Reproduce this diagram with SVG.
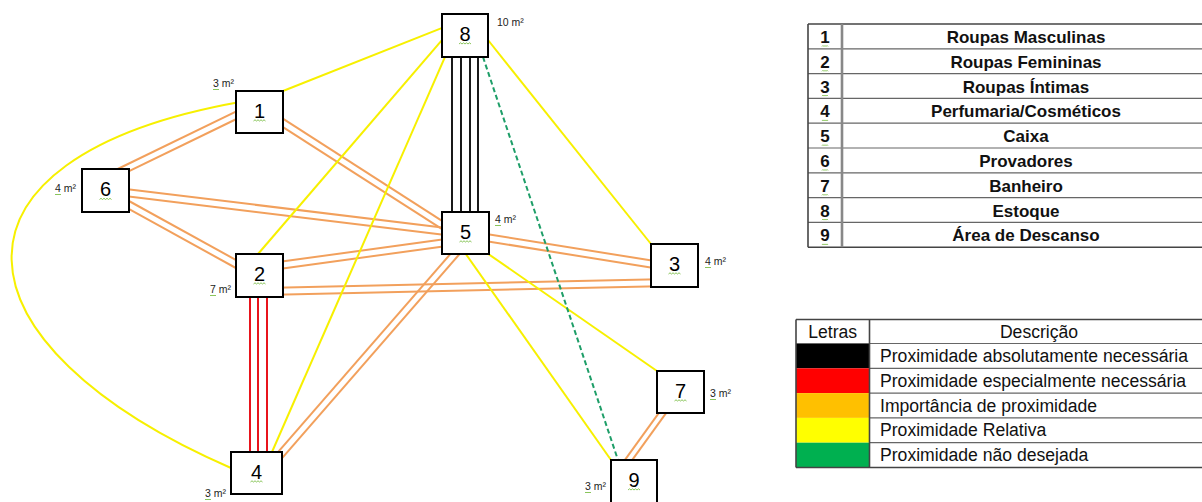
<svg xmlns="http://www.w3.org/2000/svg" xmlns:xlink="http://www.w3.org/1999/xlink" width="1202" height="502" viewBox="0 0 1202 502">
<style>
.box{fill:#fff;stroke:#000;stroke-width:2}
.num{font-family:"Liberation Sans",Arial,sans-serif;font-size:20px;text-anchor:middle;fill:#000}
.area{font-family:"Liberation Sans",Arial,sans-serif;font-size:10.5px;fill:#222}
.or{stroke:#F2A05C;stroke-width:2;fill:none}
.ye{stroke:#F7F000;stroke-width:2;fill:none}
.bk{stroke:#000;stroke-width:1.8}
.rd{stroke:#E8141C;stroke-width:2}
.gn{stroke:#1E9E68;stroke-width:2;stroke-dasharray:5 3}
.sqs{stroke:#7DBE4A;stroke-width:0.9;fill:none}
.tl{stroke:#666;stroke-width:1.2}
.tb{stroke:#444;stroke-width:1.6}
.tn{font-family:"Liberation Sans",Arial,sans-serif;font-size:17px;font-weight:bold;text-anchor:middle;fill:#111}
.lt{font-family:"Liberation Sans",Arial,sans-serif;font-size:17.6px;fill:#111}
.lh{font-family:"Liberation Sans",Arial,sans-serif;font-size:17.6px;text-anchor:middle;fill:#111}
</style>
<defs>
<path id="sq" class="sqs" d="M0,0 l1.5,-1.2 l1.5,1.2 l1.5,-1.2 l1.5,1.2 l1.5,-1.2 l1.5,1.2 l1.5,-1.2 l1.5,1.2"/>
<path id="sqs" class="sqs" d="M0,0 l1,-1 l1,1 l1,-1 l1,1 l1,-1 l1,1"/>
</defs>
<rect width="1202" height="502" fill="#fff"/>

<g id="connectors">
  <!-- orange pairs -->
  <line class="or" x1="244.6" y1="107.3" x2="108.4" y2="173.5"/>
  <line class="or" x1="247.8" y1="113.5" x2="111.6" y2="179.7"/>
  <line class="or" x1="278.2" y1="115.7" x2="450.6" y2="226.3"/>
  <line class="or" x1="274.4" y1="121.6" x2="446.8" y2="232.2"/>
  <line class="or" x1="121.4" y1="188.5" x2="450.4" y2="228.5"/>
  <line class="or" x1="120.6" y1="195.5" x2="449.6" y2="235.5"/>
  <line class="or" x1="121.7" y1="197" x2="244.7" y2="264.8"/>
  <line class="or" x1="118.3" y1="203.2" x2="241.3" y2="271"/>
  <line class="or" x1="274.5" y1="262.6" x2="449.5" y2="238.4"/>
  <line class="or" x1="275.5" y1="269.6" x2="450.5" y2="245.4"/>
  <line class="or" x1="275" y1="287.7" x2="659" y2="279.3"/>
  <line class="or" x1="275" y1="294.7" x2="659" y2="286.3"/>
  <line class="or" x1="481.6" y1="233.2" x2="659.6" y2="261.8"/>
  <line class="or" x1="480.4" y1="240.2" x2="658.4" y2="268.8"/>
  <line class="or" x1="462.8" y1="250.3" x2="278.4" y2="462.3"/>
  <line class="or" x1="457.6" y1="245.7" x2="273.2" y2="457.7"/>
  <line class="or" x1="668.4" y1="409.9" x2="627.4" y2="466.7"/>
  <line class="or" x1="663.6" y1="406.3" x2="622.6" y2="463.1"/>
  <!-- yellow -->
  <line class="ye" x1="283" y1="91" x2="446" y2="26.4"/>
  <line class="ye" x1="258" y1="254" x2="446" y2="35.3"/>
  <line class="ye" x1="272" y1="452" x2="447" y2="52.4"/>
  <line class="ye" x1="651" y1="244" x2="484" y2="35"/>
  <path class="ye" d="M240,102 C-74,158 -52,345 231,468"/>
  <line class="ye" x1="611" y1="460" x2="463" y2="250"/>
  <line class="ye" x1="657" y1="371" x2="484" y2="251"/>
  <!-- black -->
  <line class="bk" x1="452" y1="56" x2="452" y2="213"/>
  <line class="bk" x1="461" y1="56" x2="461" y2="213"/>
  <line class="bk" x1="470" y1="56" x2="470" y2="213"/>
  <line class="bk" x1="478" y1="56" x2="478" y2="213"/>
  <!-- red -->
  <line class="rd" x1="250" y1="296" x2="250" y2="453"/>
  <line class="rd" x1="258" y1="296" x2="258" y2="453"/>
  <line class="rd" x1="267" y1="296" x2="267" y2="453"/>
  <!-- green dashed -->
  <line class="gn" x1="483" y1="57" x2="618" y2="460"/>
</g>

<g id="node-8">
  <rect class="box" x="442" y="14" width="46" height="43"/>
  <text class="num" x="465" y="40.5">8</text>
  <use xlink:href="#sq" x="459" y="44"/>
  <text class="area" x="497" y="26">10 m²</text>
</g>
<g id="node-1">
  <rect class="box" x="236" y="91" width="47" height="42"/>
  <text class="num" x="259.5" y="117.5">1</text>
  <use xlink:href="#sq" x="253.5" y="121"/>
  <text class="area" x="213" y="87">3 m²</text>
  <use xlink:href="#sqs" x="213" y="90"/>
</g>
<g id="node-6">
  <rect class="box" x="82" y="169" width="47" height="43"/>
  <text class="num" x="105.5" y="196">6</text>
  <use xlink:href="#sq" x="99.5" y="199.5"/>
  <text class="area" x="55" y="192">4 m²</text>
  <use xlink:href="#sqs" x="55" y="195"/>
</g>
<g id="node-2">
  <rect class="box" x="236" y="254" width="47" height="43"/>
  <text class="num" x="259.5" y="280.5">2</text>
  <use xlink:href="#sq" x="253.5" y="284"/>
  <text class="area" x="210" y="293">7 m²</text>
  <use xlink:href="#sqs" x="210" y="296"/>
</g>
<g id="node-5">
  <rect class="box" x="442" y="212" width="47" height="42"/>
  <text class="num" x="465.5" y="238.5">5</text>
  <use xlink:href="#sq" x="459.5" y="242"/>
  <text class="area" x="495" y="223">4 m²</text>
  <use xlink:href="#sqs" x="495" y="226"/>
</g>
<g id="node-3">
  <rect class="box" x="651" y="244" width="47" height="43"/>
  <text class="num" x="674.5" y="270.5">3</text>
  <use xlink:href="#sq" x="668.5" y="274"/>
  <text class="area" x="705" y="265">4 m²</text>
  <use xlink:href="#sqs" x="705" y="268"/>
</g>
<g id="node-4">
  <rect class="box" x="231" y="452" width="51" height="42"/>
  <text class="num" x="256.5" y="478.5">4</text>
  <use xlink:href="#sq" x="250.5" y="482"/>
  <text class="area" x="205" y="497">3 m²</text>
  <use xlink:href="#sqs" x="205" y="500"/>
</g>
<g id="node-7">
  <rect class="box" x="657" y="371" width="47" height="42"/>
  <text class="num" x="680.5" y="397.5">7</text>
  <use xlink:href="#sq" x="674.5" y="401"/>
  <text class="area" x="710" y="397">3 m²</text>
  <use xlink:href="#sqs" x="710" y="400"/>
</g>
<g id="node-9">
  <rect class="box" x="611" y="460" width="46" height="44"/>
  <text class="num" x="634" y="486.5">9</text>
  <use xlink:href="#sq" x="628" y="490"/>
  <text class="area" x="585" y="490">3 m²</text>
  <use xlink:href="#sqs" x="585" y="493"/>
</g>

<g id="table-rooms">
  <line class="tb" x1="808" y1="24" x2="1202" y2="24"/>
  <line class="tl" x1="808" y1="48.8" x2="1202" y2="48.8"/>
  <line class="tl" x1="808" y1="73.6" x2="1202" y2="73.6"/>
  <line class="tl" x1="808" y1="98.4" x2="1202" y2="98.4"/>
  <line class="tl" x1="808" y1="123.2" x2="1202" y2="123.2"/>
  <line class="tl" x1="808" y1="148" x2="1202" y2="148"/>
  <line class="tl" x1="808" y1="172.8" x2="1202" y2="172.8"/>
  <line class="tl" x1="808" y1="197.6" x2="1202" y2="197.6"/>
  <line class="tl" x1="808" y1="222.4" x2="1202" y2="222.4"/>
  <line class="tb" x1="808" y1="247.2" x2="1202" y2="247.2"/>
  <line class="tb" x1="808" y1="24" x2="808" y2="247.2"/>
  <line stroke="#888" stroke-width="2.6" x1="842" y1="24" x2="842" y2="247.2"/>
  <text class="tn" x="825" y="43">1</text><use xlink:href="#sqs" x="822" y="46.5"/>
  <text class="tn" x="825" y="67.8">2</text><use xlink:href="#sqs" x="822" y="71.3"/>
  <text class="tn" x="825" y="92.6">3</text><use xlink:href="#sqs" x="822" y="96.1"/>
  <text class="tn" x="825" y="117.4">4</text><use xlink:href="#sqs" x="822" y="120.9"/>
  <text class="tn" x="825" y="142.2">5</text><use xlink:href="#sqs" x="822" y="145.7"/>
  <text class="tn" x="825" y="167">6</text><use xlink:href="#sqs" x="822" y="170.5"/>
  <text class="tn" x="825" y="191.8">7</text><use xlink:href="#sqs" x="822" y="195.3"/>
  <text class="tn" x="825" y="216.6">8</text><use xlink:href="#sqs" x="822" y="220.1"/>
  <text class="tn" x="825" y="241.4">9</text><use xlink:href="#sqs" x="822" y="244.9"/>
  <text class="tn" x="1026" y="43">Roupas Masculinas</text>
  <text class="tn" x="1026" y="67.8">Roupas Femininas</text>
  <text class="tn" x="1026" y="92.6">Roupas Íntimas</text>
  <text class="tn" x="1026" y="117.4">Perfumaria/Cosméticos</text>
  <text class="tn" x="1026" y="142.2">Caixa</text>
  <text class="tn" x="1026" y="167">Provadores</text>
  <text class="tn" x="1026" y="191.8">Banheiro</text>
  <text class="tn" x="1026" y="216.6">Estoque</text>
  <text class="tn" x="1026" y="241.4">Área de Descanso</text>
</g>

<g id="table-legend">
  <rect x="796" y="343.5" width="73.5" height="24.8" fill="#000"/>
  <rect x="796" y="368.3" width="73.5" height="24.8" fill="#FF0000"/>
  <rect x="796" y="393.1" width="73.5" height="24.8" fill="#FFC000"/>
  <rect x="796" y="417.9" width="73.5" height="24.8" fill="#FFFF00"/>
  <rect x="796" y="442.7" width="73.5" height="24.8" fill="#00B050"/>
  <line class="tb" x1="796" y1="319.5" x2="1202" y2="319.5"/>
  <line class="tl" x1="796" y1="343.5" x2="1202" y2="343.5"/>
  <line class="tl" x1="869.5" y1="368.3" x2="1202" y2="368.3"/>
  <line class="tl" x1="869.5" y1="393.1" x2="1202" y2="393.1"/>
  <line class="tl" x1="869.5" y1="417.9" x2="1202" y2="417.9"/>
  <line class="tl" x1="869.5" y1="442.7" x2="1202" y2="442.7"/>
  <line class="tb" x1="796" y1="467.5" x2="1202" y2="467.5"/>
  <line class="tb" x1="796" y1="319.5" x2="796" y2="467.5"/>
  <line class="tb" x1="869.5" y1="319.5" x2="869.5" y2="467.5"/>
  <text class="lh" x="832.7" y="338">Letras</text>
  <text class="lh" x="1039" y="338">Descrição</text>
  <text class="lt" x="880" y="362">Proximidade absolutamente necessária</text>
  <text class="lt" x="880" y="386.8">Proximidade especialmente necessária</text>
  <text class="lt" x="880" y="411.6">Importância de proximidade</text>
  <text class="lt" x="880" y="436.4">Proximidade Relativa</text>
  <text class="lt" x="880" y="461.2">Proximidade não desejada</text>
</g>
</svg>
